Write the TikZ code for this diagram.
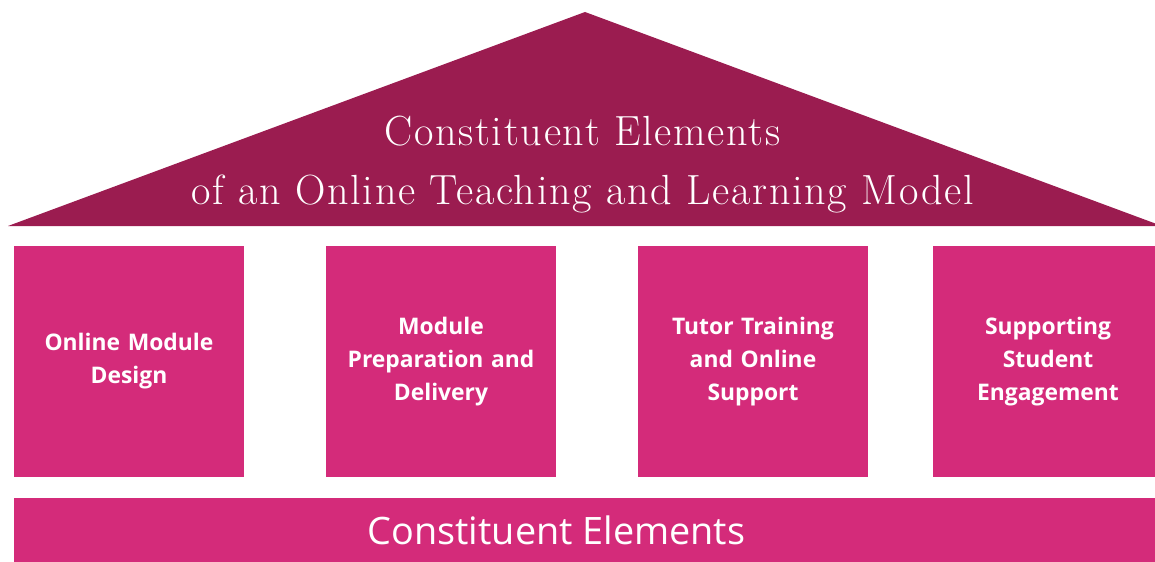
\documentclass[tikz,border=0pt]{standalone}
\usepackage{fontspec}
\usepackage{xcolor}
\setsansfont{Open Sans}
\newfontfamily\rooffont[LetterSpace=4]{Latin Modern Roman}
\definecolor{roofred}{HTML}{9B1C50}
\definecolor{pillarpink}{HTML}{D42B7A}

\begin{document}
\begin{tikzpicture}[
    pillar/.style={fill=pillarpink, minimum width=4.6cm, minimum height=4.61cm,
        text width=4.3cm, align=center, text=white, inner sep=0pt,
        font=\sffamily\bfseries\fontsize{13}{18.8}\selectfont},
    basebar/.style={fill=pillarpink, minimum width=22.98cm, minimum height=1.5cm, inner sep=0pt},
    ]
    \clip (0,0) rectangle (23.1,11.22);

    % Roof
    \coordinate (roofleft) at (0.16,6.70);
    \coordinate (roofright) at (23.24,6.70);
    \coordinate (roofapex) at (11.70,10.98);
    \fill[roofred] (roofleft) -- (roofapex) -- (roofright) -- cycle;
    \node[text=white, align=center, font=\rooffont\fontsize{24}{33.8}\selectfont] (rooftext) at (11.65,7.93)
        {Constituent Elements\\of an Online Teaching and Learning Model};

    % Pillars
    \node[pillar] (design) at (2.58,3.99) {Online Module\\Design};
    \node[pillar] (delivery) at (8.82,3.99) {Module\\Preparation and\\Delivery};
    \node[pillar] (tutor) at (15.06,3.99) {Tutor Training\\and Online\\Support};
    \node[pillar] (engagement) at (20.96,3.99) {Supporting\\Student\\Engagement};

    % Base
    \node[basebar] (base) at (11.77,0.516) {};
    \node[text=white, font=\sffamily\fontsize{21.5}{26}\selectfont] (basetext) at (11.13,0.61) {Constituent Elements};
\end{tikzpicture}
\end{document}
